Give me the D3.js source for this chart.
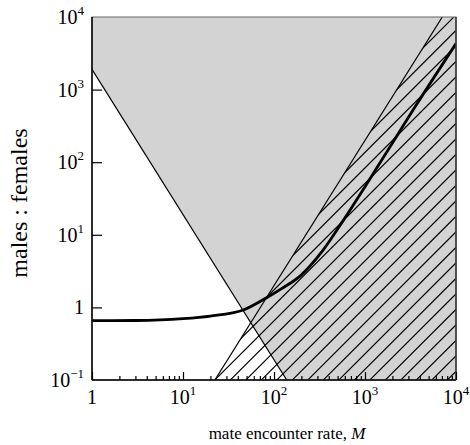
<!DOCTYPE html>
<html><head><meta charset="utf-8">
<script src="https://cdn.jsdelivr.net/npm/d3@7"></script>
<style>
html,body{margin:0;padding:0;background:#fff;}
text{font-family:"Liberation Serif","Times New Roman",serif;fill:#000;}
</style></head>
<body><svg id="c" width="470" height="445"></svg>
<script>
// ---- data ----
const xTickValues = [1, 10, 100, 1000, 10000];
const xTickExp = [null, "1", "2", "3", "4"];
const yTickValues = [0.1, 1, 10, 100, 1000, 10000];
const yTickExp = ["\u22121", null, "1", "2", "3", "4"];
// descending boundary (gray region lies above)
const descM = [1, 138];
const descY = [1900, 0.1];
// ascending boundary (hatched region lies below/right)
const ascM = [22.4, 7070];
const ascY = [0.1, 10000];
// thick curve
const curveM = [1, 3, 10, 20, 46, 83, 120, 193, 348, 578, 1000, 1462, 3396, 10000];
const curveY = [0.656, 0.66, 0.70, 0.76, 0.92, 1.36, 1.8, 2.7, 6.2, 15.8, 46, 98, 530, 4300];

const xLabel = "mate encounter rate, ";
const xLabelItalic = "M";
const yLabel = "males : females";

// ---- layout ----
const L = 92, T = 17, W = 364, H = 363;
const svg = d3.select("#c");
const x = d3.scaleLog().domain([1, 10000]).range([L, L + W]);
const y = d3.scaleLog().domain([0.1, 10000]).range([T + H, T]);

svg.append("clipPath").attr("id", "plotclip")
  .append("rect").attr("x", L).attr("y", T).attr("width", W).attr("height", H);

// gray region: above descending line
const grayPoly = [[x(descM[0]), y(descY[0])], [x(descM[1]), y(descY[1])],
  [x(10000), y(0.1)], [x(10000), y(10000)], [x(1), y(10000)]];
svg.append("path").attr("d", "M" + grayPoly.join("L") + "Z")
  .attr("fill", "#d3d3d3").attr("clip-path", "url(#plotclip)");

// hatch region: below ascending line
const hatchPoly = [[x(ascM[0]), y(ascY[0])], [x(ascM[1]), y(ascY[1])],
  [x(10000), y(10000)], [x(10000), y(0.1)]];
svg.append("clipPath").attr("id", "hatchclip")
  .append("path").attr("d", "M" + hatchPoly.join("L") + "Z");
const hg = svg.append("g").attr("clip-path", "url(#hatchclip)");
const step = 15.5;
const x0 = x(ascM[0]), yb = y(ascY[0]);
for (let k = -30; k < 20; k++) {
  const sx = x0 + k * step;
  hg.append("line").attr("x1", sx).attr("y1", yb).attr("x2", sx + 500).attr("y2", yb - 500)
    .attr("stroke", "#000").attr("stroke-width", 1.1);
}

// boundary lines
const lineGen = d3.line().x(d => x(d[0])).y(d => y(d[1]));
const plotG = svg.append("g").attr("clip-path", "url(#plotclip)");
plotG.append("path").attr("d", lineGen(descM.map((m, i) => [m, descY[i]])))
  .attr("fill", "none").attr("stroke", "#000").attr("stroke-width", 1.2);
plotG.append("path").attr("d", lineGen(ascM.map((m, i) => [m, ascY[i]])))
  .attr("fill", "none").attr("stroke", "#000").attr("stroke-width", 1.2);

// thick curve
const curveGen = d3.line().x(d => x(d[0])).y(d => y(d[1])).curve(d3.curveMonotoneX);
plotG.append("path").attr("d", curveGen(curveM.map((m, i) => [m, curveY[i]])))
  .attr("fill", "none").attr("stroke", "#000").attr("stroke-width", 2.8);

// frame
svg.append("rect").attr("x", L).attr("y", T).attr("width", W).attr("height", H)
  .attr("fill", "none").attr("stroke", "#666").attr("stroke-width", 1);
svg.append("line").attr("x1", L).attr("x2", L).attr("y1", T).attr("y2", T + H)
  .attr("stroke", "#000").attr("stroke-width", 1.5);
svg.append("line").attr("x1", L).attr("x2", L + W).attr("y1", T + H).attr("y2", T + H)
  .attr("stroke", "#000").attr("stroke-width", 1.5);
svg.append("line").attr("x1", L + W).attr("x2", L + W).attr("y1", T).attr("y2", T + H)
  .attr("stroke", "#333").attr("stroke-width", 1.5);

// x axis ticks (inward)
const xAxis = d3.axisBottom(x).tickValues(xTickValues).tickSize(-8).tickFormat("");
const minorX = [];
for (let d = 1; d < 10000; d *= 10) for (let m = 2; m <= 9; m++) minorX.push(d * m);
const xa = svg.append("g").attr("transform", `translate(0,${T + H})`).call(xAxis);
xa.select(".domain").remove();
xa.selectAll("line").attr("stroke", "#000").attr("stroke-width", 1.2);
const xm = svg.append("g").attr("transform", `translate(0,${T + H})`)
  .call(d3.axisBottom(x).tickValues(minorX).tickSize(-4).tickFormat(""));
xm.select(".domain").remove();
xm.selectAll("line").attr("stroke", "#000").attr("stroke-width", 1.2);

// x tick labels
xTickValues.forEach((v, i) => {
  const t = svg.append("text").attr("x", x(v)).attr("y", 404)
    .attr("text-anchor", "middle").attr("font-size", 20);
  t.append("tspan").text(i === 0 ? "1" : "10");
  if (xTickExp[i]) t.append("tspan").attr("dy", -9).attr("font-size", 13).text(xTickExp[i]);
});

// y tick labels
yTickValues.forEach((v, i) => {
  const t = svg.append("text").attr("x", 84).attr("y", y(v) + 7)
    .attr("text-anchor", "end").attr("font-size", 20);
  t.append("tspan").text(yTickExp[i] === null ? "1" : "10");
  if (yTickExp[i]) t.append("tspan").attr("dy", -9).attr("font-size", 13).text(yTickExp[i]);
});

// y axis ticks (inward)
const ya = svg.append("g").attr("transform", `translate(${L},0)`)
  .call(d3.axisLeft(y).tickValues(yTickValues.slice(1, 5)).tickSize(-10).tickFormat(""));
ya.select(".domain").remove();
ya.selectAll("line").attr("stroke", "#000").attr("stroke-width", 1.2);

// axis titles
const xt = svg.append("text").attr("x", 287).attr("y", 439)
  .attr("text-anchor", "middle").attr("font-size", 17);
xt.append("tspan").text(xLabel);
xt.append("tspan").attr("font-style", "italic").text(xLabelItalic);

svg.append("text").attr("transform", `translate(27,203) rotate(-90)`)
  .attr("text-anchor", "middle").attr("font-size", 24).text(yLabel);
</script></body></html>
